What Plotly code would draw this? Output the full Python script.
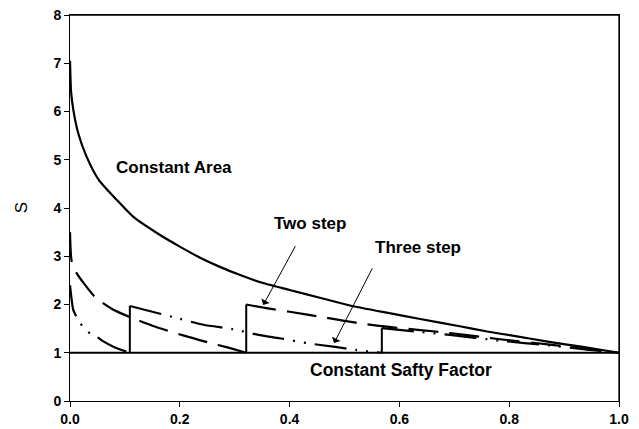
import plotly.graph_objects as go

# ---- data ----
ca_x = [0, 0.002, 0.006, 0.015, 0.030, 0.052, 0.085, 0.115, 0.164, 0.2, 0.237, 0.273,
        0.31, 0.35, 0.4, 0.455, 0.51, 0.577, 0.638, 0.71, 0.76, 0.814, 0.87, 0.934, 1.0]
ca_s = [7.05, 6.4, 6.04, 5.55, 5.07, 4.59, 4.17, 3.82, 3.44, 3.2, 2.97, 2.78,
        2.61, 2.45, 2.30, 2.14, 1.98, 1.83, 1.70, 1.55, 1.44, 1.34, 1.23, 1.12, 1.0]

two1_x = [0, 0.003, 0.012, 0.046, 0.079, 0.109, 0.15, 0.206, 0.25, 0.29, 0.321]
two1_s = [3.5, 2.9, 2.65, 2.15, 1.89, 1.74, 1.56, 1.36, 1.22, 1.1, 1.0]
two2_x = [0.321, 0.355, 0.40, 0.459, 0.50, 0.541, 0.577, 0.638, 0.692, 0.783, 0.874, 0.947, 1.0]
two2_s = [2.0, 1.93, 1.85, 1.74, 1.66, 1.59, 1.54, 1.47, 1.41, 1.28, 1.17, 1.07, 1.0]

three1_x = [0, 0.003, 0.006, 0.018, 0.033, 0.049, 0.06, 0.08, 0.109]
three1_s = [2.4, 2.1, 1.89, 1.62, 1.43, 1.33, 1.24, 1.12, 1.0]
three2_x = [0.109, 0.188, 0.243, 0.297, 0.343, 0.382, 0.437, 0.483, 0.52, 0.568]
three2_s = [1.97, 1.74, 1.58, 1.49, 1.37, 1.30, 1.19, 1.12, 1.06, 1.0]
three3_x = [0.568, 0.638, 0.692, 0.783, 0.874, 0.947, 1.0]
three3_s = [1.51, 1.43, 1.37, 1.25, 1.15, 1.06, 1.0]

jump_x = [0.109, 0.321, 0.568]
jump_low = [1.0, 1.0, 1.0]
jump_high = [1.97, 2.0, 1.51]

csf_x = [0, 1]
csf_s = [1, 1]

x_range = [0, 1]
y_range = [0, 8]
x_ticks = [0.0, 0.2, 0.4, 0.6, 0.8, 1.0]
x_ticklabels = ["0.0", "0.2", "0.4", "0.6", "0.8", "1.0"]
y_ticks = [0, 1, 2, 3, 4, 5, 6, 7, 8]

FONT = "Liberation Sans, Arial, sans-serif"
BLACK = "#000000"

fig = go.Figure()

# plot frame (top and right edges), drawn from the axis ranges
fig.add_trace(go.Scatter(x=[x_range[0], x_range[1], x_range[1]],
                         y=[y_range[1], y_range[1], y_range[0]],
                         mode="lines", cliponaxis=False, hoverinfo="skip",
                         line=dict(color=BLACK, width=1.3)))

# constant safety factor
fig.add_trace(go.Scatter(x=csf_x, y=csf_s, mode="lines",
                         line=dict(color=BLACK, width=2.2)))
# constant area
fig.add_trace(go.Scatter(x=ca_x, y=ca_s, mode="lines", line_shape="spline",
                         line=dict(color=BLACK, width=2.2, smoothing=0.6)))
# two step
two_dash = "30px,11px"
for xs, ss in [(two1_x, two1_s), (two2_x, two2_s)]:
    fig.add_trace(go.Scatter(x=xs, y=ss, mode="lines", line_shape="spline",
                             line=dict(color=BLACK, width=2.2, dash=two_dash, smoothing=0.6)))
# three step
three_dash = "32px,9px,2px,9px,2px,9px"
for xs, ss in [(three1_x, three1_s), (three2_x, three2_s), (three3_x, three3_s)]:
    fig.add_trace(go.Scatter(x=xs, y=ss, mode="lines", line_shape="spline",
                             line=dict(color=BLACK, width=2.2, dash=three_dash, smoothing=0.6)))
# vertical jumps (solid)
for jx, lo, hi in zip(jump_x, jump_low, jump_high):
    fig.add_trace(go.Scatter(x=[jx, jx], y=[lo, hi], mode="lines",
                             line=dict(color=BLACK, width=2)))

ann_font = dict(family=FONT, size=17, color=BLACK, weight="bold")
annotations = [
    dict(x=0.19, y=4.83, text="Constant Area", showarrow=False, font=ann_font),
    dict(x=0.437, y=3.67, text="Two step", showarrow=False, font=ann_font),
    dict(x=0.634, y=3.19, text="Three step", showarrow=False, font=ann_font),
    dict(x=0.603, y=0.65, text="Constant Safty Factor", showarrow=False,
         font=dict(family=FONT, size=17.5, color=BLACK, weight="bold")),
    dict(x=0.352, y=1.99, ax=0.412, ay=3.24, xref="x", yref="y", axref="x", ayref="y",
         text="", showarrow=True, arrowhead=1, arrowsize=1.6, arrowwidth=1, arrowcolor=BLACK),
    dict(x=0.481, y=1.20, ax=0.552, ay=2.78, xref="x", yref="y", axref="x", ayref="y",
         text="", showarrow=True, arrowhead=1, arrowsize=1.6, arrowwidth=1, arrowcolor=BLACK),
    dict(x=-0.089, y=0.5, xref="paper", yref="paper", text="S", textangle=-90,
         xanchor="center", yanchor="middle",
         showarrow=False, font=dict(family=FONT, size=17, color=BLACK)),
]

# page body has an 8px margin, so the figure is sized/margined to compensate
fig.update_layout(
    width=631, height=421,
    margin=dict(l=62, r=20, t=7, b=28, autoexpand=False),
    paper_bgcolor="white", plot_bgcolor="white",
    showlegend=False,
    font=dict(family=FONT, color=BLACK),
    annotations=annotations,
)
fig.update_xaxes(range=x_range, tickvals=x_ticks, ticktext=x_ticklabels, automargin=False,
                 ticks="outside", ticklen=5, tickwidth=1, tickcolor=BLACK,
                 ticklabeloverflow="allow",
                 showline=True, linecolor=BLACK, linewidth=1, mirror=True,
                 showgrid=False, zeroline=False,
                 tickfont=dict(family=FONT, size=14, color=BLACK, weight="bold"))
fig.update_yaxes(range=y_range, tickvals=y_ticks, automargin=False,
                 ticks="outside", ticklen=5, tickwidth=1, tickcolor=BLACK,
                 ticklabeloverflow="allow",
                 showline=True, linecolor=BLACK, linewidth=1, mirror=True,
                 showgrid=False, zeroline=False,
                 tickfont=dict(family=FONT, size=14, color=BLACK, weight="bold"))

fig.write_html("out.html")
